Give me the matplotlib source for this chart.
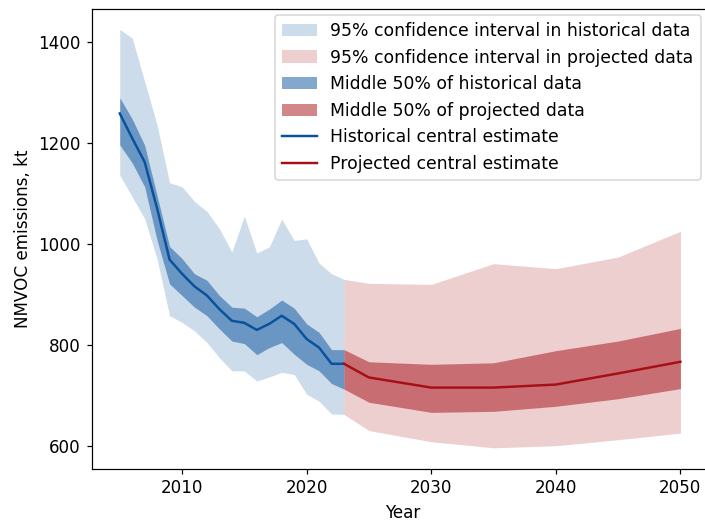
import matplotlib
matplotlib.use("Agg")
import matplotlib.pyplot as plt
import numpy as np

hist_years = list(range(2005, 2024))
hist_central = [1258, 1209, 1162, 1070, 969, 941, 916, 898, 871, 848, 844, 830, 842, 858, 842, 812, 795, 763, 763]
hist_q_hi = [1289, 1247, 1195, 1095, 995, 971, 941, 928, 898, 875, 873, 856, 871, 889, 873, 842, 825, 791, 791]
hist_q_lo = [1196, 1160, 1113, 1007, 921, 898, 875, 858, 832, 808, 803, 781, 795, 805, 782, 762, 749, 724, 713]
hist_ci_hi = [1424, 1407, 1321, 1235, 1121, 1113, 1084, 1064, 1030, 984, 1055, 982, 994, 1049, 1007, 1010, 962, 941, 930]
hist_ci_lo = [1136, 1093, 1050, 970, 858, 845, 828, 805, 775, 749, 749, 729, 737, 746, 742, 703, 689, 664, 663]

proj_years = [2023, 2025, 2030, 2035, 2040, 2045, 2050]
proj_central = [763, 736, 716, 716, 722, 744, 767]
proj_q_hi = [791, 767, 762, 765, 789, 808, 833]
proj_q_lo = [713, 687, 667, 669, 679, 694, 714]
proj_ci_hi = [930, 922, 920, 961, 951, 974, 1025]
proj_ci_lo = [663, 631, 609, 597, 601, 613, 626]

blue = "#08519c"
red = "#a50f15"

plt.rcParams["font.size"] = 11

dpi = 110
fig = plt.figure(figsize=(705 / dpi, 522 / dpi), dpi=dpi)
ax = fig.add_axes([91.7 / 705, (522 - 468.7) / 522, (714.7 - 91.7) / 705, (468.7 - 8.5) / 522])

h1 = ax.fill_between(hist_years, hist_ci_lo, hist_ci_hi, color=blue, alpha=0.2, lw=0,
                     label="95% confidence interval in historical data")
h2 = ax.fill_between(proj_years, proj_ci_lo, proj_ci_hi, color=red, alpha=0.2, lw=0,
                     label="95% confidence interval in projected data")
h3 = ax.fill_between(hist_years, hist_q_lo, hist_q_hi, color=blue, alpha=0.5, lw=0,
                     label="Middle 50% of historical data")
h4 = ax.fill_between(proj_years, proj_q_lo, proj_q_hi, color=red, alpha=0.5, lw=0,
                     label="Middle 50% of projected data")
h5, = ax.plot(hist_years, hist_central, color=blue, lw=1.6, label="Historical central estimate")
h6, = ax.plot(proj_years, proj_central, color=red, lw=1.6, label="Projected central estimate")

ax.set_xlim(2002.75, 2052.75)
ax.set_xticks([2010, 2020, 2030, 2040, 2050])
ax.set_yticks([600, 800, 1000, 1200, 1400])
ax.set_xlabel("Year")
ax.set_ylabel("NMVOC emissions, kt")
ax.legend(handles=[h1, h2, h3, h4, h5, h6], loc="upper right", fontsize=11.3,
          bbox_to_anchor=(700.5 / 705, (522 - 15) / 522), bbox_transform=fig.transFigure,
          borderaxespad=0)

fig.savefig("out.png", dpi=dpi)
